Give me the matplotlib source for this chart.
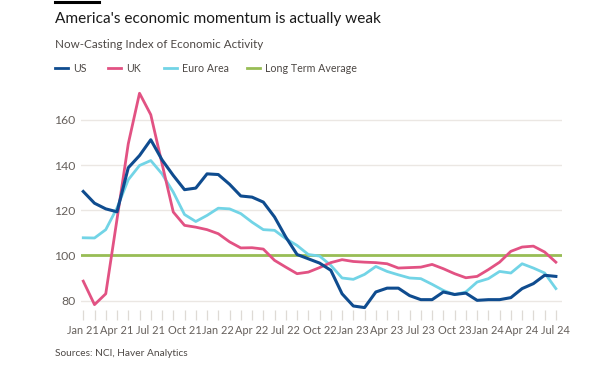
import matplotlib
matplotlib.use("Agg")
import matplotlib.pyplot as plt
from matplotlib.lines import Line2D
import numpy as np

# ---------------- data ----------------
months = ["2021-01", "2021-02", "2021-03", "2021-04", "2021-05", "2021-06", "2021-07", "2021-08",
          "2021-09", "2021-10", "2021-11", "2021-12", "2022-01", "2022-02", "2022-03", "2022-04",
          "2022-05", "2022-06", "2022-07", "2022-08", "2022-09", "2022-10", "2022-11", "2022-12",
          "2023-01", "2023-02", "2023-03", "2023-04", "2023-05", "2023-06", "2023-07", "2023-08",
          "2023-09", "2023-10", "2023-11", "2023-12", "2024-01", "2024-02", "2024-03", "2024-04",
          "2024-05", "2024-06", "2024-07"]

us = [128.3, 123.1, 120.6, 119.3, 138.8, 144.2, 151.2, 142.3, 135.4, 129.1, 129.8, 136.1,
      135.8, 131.5, 126.3, 125.8, 123.6, 117.0, 108.1, 100.4, 98.5, 96.6, 93.4, 83.0,
      77.6, 76.9, 83.8, 85.5, 85.5, 82.2, 80.4, 80.4, 83.8, 82.7, 83.3, 80.1,
      80.4, 80.4, 81.3, 85.3, 87.5, 91.2, 90.7]

uk = [88.6, 78.2, 83.0, 116.0, 149.4, 171.8, 162.3, 140.6, 119.2, 113.3, 112.5, 111.4,
      109.6, 106.0, 103.3, 103.4, 102.8, 97.8, 94.8, 91.9, 92.6, 94.6, 96.8, 98.1,
      97.3, 97.0, 96.8, 96.3, 94.4, 94.6, 94.8, 96.0, 94.1, 91.9, 90.1, 90.7,
      93.7, 97.0, 101.8, 103.7, 104.1, 101.5, 97.0]

euro = [107.8, 107.7, 111.4, 121.0, 133.5, 139.8, 142.0, 136.1, 128.0, 118.1, 115.0, 117.7,
        120.9, 120.6, 118.5, 114.7, 111.4, 111.1, 107.4, 104.4, 100.4, 99.7, 95.6, 90.0,
        89.4, 91.6, 95.1, 92.9, 91.4, 90.0, 89.7, 87.2, 84.5, 82.6, 83.8, 88.2,
        89.7, 92.9, 92.2, 96.3, 94.4, 92.2, 85.3]

long_term_average = 100

series_names = ["US", "UK", "Euro Area", "Long Term Average"]
series_colors = ["#0f4c8f", "#e25283", "#72d4e6", "#98bd55"]

tick_labels = ["Jan 21", "Apr 21", "Jul 21", "Oct 21", "Jan 22", "Apr 22", "Jul 22", "Oct 22",
               "Jan 23", "Apr 23", "Jul 23", "Oct 23", "Jan 24", "Apr 24", "Jul 24"]
y_ticks = [80, 100, 120, 140, 160]

title = "America's economic momentum is actually weak"
subtitle = "Now-Casting Index of Economic Activity"
source = "Sources: NCI, Haver Analytics"

# ---------------- figure ----------------
W, H = 602, 367
DPI = 100
plt.rcParams['font.family'] = ['Lato', 'DejaVu Sans']
fig = plt.figure(figsize=(W / DPI, H / DPI), dpi=DPI, facecolor="white")

def fx(px):
    return px / W

def fy(py):
    return 1 - py / H

ax_left, ax_right, ax_top, ax_bottom = 81.0, 561.5, 86.0, 309.6
ax = fig.add_axes([fx(ax_left), fy(ax_bottom), (ax_right - ax_left) / W, (ax_bottom - ax_top) / H])

x = np.arange(len(months))
ax.set_xlim(-0.2, len(months) - 0.5)
ax.set_ylim(76, 175)

grid_color = "#ebe7e3"
for yv in y_ticks:
    ax.axhline(yv, color=grid_color, lw=1.0, zorder=1)

ax.axhline(long_term_average, color=series_colors[3], lw=2.0, zorder=2)
ax.plot(x, euro, color=series_colors[2], lw=2.0, zorder=3, solid_joinstyle="round")
ax.plot(x, uk, color=series_colors[1], lw=2.0, zorder=4, solid_joinstyle="round")
ax.plot(x, us, color=series_colors[0], lw=2.2, zorder=5, solid_joinstyle="round")

for s in ax.spines.values():
    s.set_visible(False)

ax.set_yticks(y_ticks)
ax.set_yticklabels([str(v) for v in y_ticks])
ax.tick_params(axis="y", length=0, pad=4, labelsize=8.8, labelcolor="#66605c")

ax.set_xticks(x)
lab = []
qi = 0
for i in range(len(months)):
    if i % 3 == 0:
        lab.append(tick_labels[qi])
        qi += 1
    else:
        lab.append("")
ax.set_xticklabels(lab)
ax.tick_params(axis="x", length=7, width=0.9, color="#dedad5", pad=4, labelsize=7.9,
               labelcolor="#66605c")

# ---------------- texts ----------------
fig.add_artist(Line2D([fx(55), fx(99)], [fy(1.5), fy(1.5)], color="black", lw=2.2,
                      transform=fig.transFigure))
fig.text(fx(55), fy(19), title, fontsize=11.1, color="#1a1a1a", va="center", ha="left")
fig.text(fx(55), fy(44), subtitle, fontsize=8.4, color="#4d4845", va="center", ha="left")

leg_x = [55, 108, 164, 247]
for name, col, lx in zip(series_names, series_colors, leg_x):
    fig.add_artist(Line2D([fx(lx), fx(lx + 13)], [fy(68), fy(68)], color=col, lw=2.0,
                          transform=fig.transFigure))
    fig.text(fx(lx + 18), fy(68), name, fontsize=7.7, color="#4d4845", va="center", ha="left")

fig.text(fx(55), fy(353), source, fontsize=7.3, color="#4d4845", va="center", ha="left")

fig.savefig("out.png", dpi=DPI, facecolor="white")
